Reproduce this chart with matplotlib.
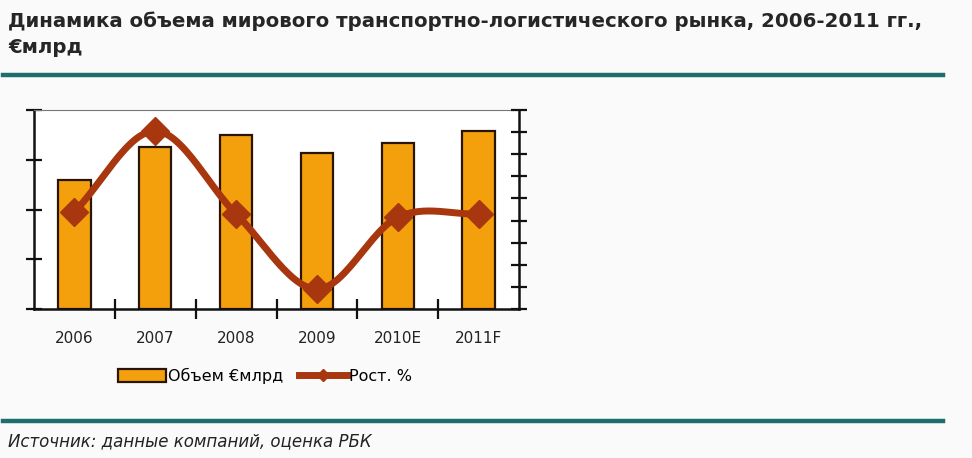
import numpy as np
import matplotlib
matplotlib.use("Agg")
import matplotlib.pyplot as plt
from matplotlib.patches import Patch
from matplotlib.lines import Line2D

categories = ["2006", "2007", "2008", "2009", "2010E", "2011F"]
volume = [259, 326, 350, 314, 334, 358]        # объем, €млрд (оценка по рисунку)
growth = [4.4, 8.05, 4.3, 0.9, 4.15, 4.3]       # рост, % (оценка по рисунку)

title = "Динамика объема мирового транспортно-логистического рынка, 2006-2011 гг.,\n€млрд"
source = "Источник: данные компаний, оценка РБК"

FONT = ["DejaVu Sans"]

W, H = 972, 458
fig = plt.figure(figsize=(W / 100, H / 100), dpi=100)
fig.patch.set_facecolor("#fafafa")

def fx(px):
    return px / W
def fy(py):
    return 1 - py / H

ax = fig.add_axes([fx(34), fy(309), fx(519) - fx(34), fy(110) - fy(309)])
ax.set_facecolor("white")
x = np.arange(len(categories))
ax.bar(x, volume, width=0.4, color="#f4a00c", edgecolor="#2a1505", linewidth=1.6, zorder=2)
ax.set_xlim(-0.5, len(categories) - 0.5)
ax.set_ylim(0, 400)
ax.set_yticks(np.arange(0, 401, 100))
ax.set_xticks(np.arange(0.5, len(categories) - 1, 1.0))
ax.set_xticks(x, minor=True)
ax.set_xticklabels(categories, minor=True, fontsize=11, color="#222222", family=FONT)
ax.set_xticklabels([], minor=False)
ax.tick_params(axis="x", which="minor", length=0, pad=16)
ax.tick_params(axis="x", which="major", direction="inout", length=14, width=1.6, color="#111111")
ax.tick_params(axis="y", direction="inout", length=12, width=1.6, color="#111111", labelleft=False)
for s in ["left", "bottom", "right"]:
    ax.spines[s].set_color("#111111")
    ax.spines[s].set_linewidth(1.8)
ax.spines["top"].set_color("#777777")
ax.spines["top"].set_linewidth(0.8)

ax2 = ax.twinx()
ax2.set_ylim(0, 9)
ax2.set_yticks(np.arange(0, 10, 1))
ax2.tick_params(axis="y", direction="inout", length=12, width=1.6, color="#111111", labelright=False)
for s in ["left", "bottom", "right", "top"]:
    ax2.spines[s].set_visible(False)

# smoothed line (Catmull-Rom through the data points)
def catmull(xs, ys, n=30):
    xs = np.asarray(xs, float); ys = np.asarray(ys, float)
    px = np.concatenate([[2 * xs[0] - xs[1]], xs, [2 * xs[-1] - xs[-2]]])
    py = np.concatenate([[2 * ys[0] - ys[1]], ys, [2 * ys[-1] - ys[-2]]])
    outx, outy = [], []
    for i in range(1, len(px) - 2):
        t = np.linspace(0, 1, n)
        for arr, out in ((px, outx), (py, outy)):
            p0, p1, p2, p3 = arr[i - 1], arr[i], arr[i + 1], arr[i + 2]
            out.extend(0.5 * (2 * p1 + (-p0 + p2) * t + (2 * p0 - 5 * p1 + 4 * p2 - p3) * t ** 2
                              + (-p0 + 3 * p1 - 3 * p2 + p3) * t ** 3))
    return np.array(outx), np.array(outy)

sx, sy = catmull(x, growth)
line_c = "#a8360f"
ax2.plot(sx, sy, color=line_c, linewidth=5, solid_capstyle="round", zorder=3)
ax2.plot(x, growth, linestyle="none", marker="D", markersize=14, color=line_c, zorder=4)

# title, rules, source
fig.text(fx(8), fy(11), title, ha="left", va="top", fontsize=14.2, fontweight="bold",
         color="#262626", family=FONT, linespacing=1.5)
fig.add_artist(Line2D([fx(3), fx(943)], [fy(75), fy(75)], color="#1d6f6f", linewidth=3.2))
fig.add_artist(Line2D([fx(3), fx(943)], [fy(421), fy(421)], color="#1d6f6f", linewidth=3.2))
fig.text(fx(8), fy(441), source, ha="left", va="center", fontsize=12, style="italic",
         color="#222222", family=FONT)

handles = [Patch(facecolor="#f4a00c", edgecolor="#2a1505", linewidth=1.6),
           Line2D([0], [0], color=line_c, linewidth=5, marker="D", markersize=6)]
fig.legend(handles, ["Объем €млрд", "Рост. %"], loc="center left", bbox_to_anchor=(fx(104), fy(376)),
           ncol=2, frameon=False, handlelength=3.0, handleheight=0.9, handletextpad=0.1, columnspacing=1.0,
           prop={"family": FONT, "size": 11.5})

fig.savefig("out.png", dpi=100, facecolor=fig.get_facecolor())
